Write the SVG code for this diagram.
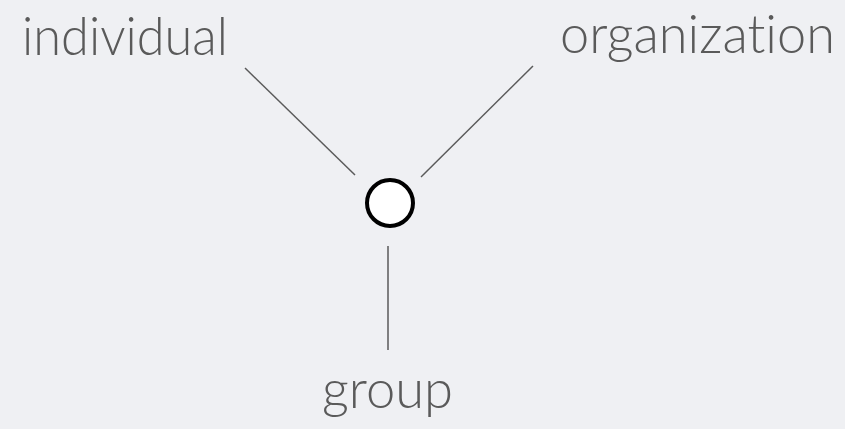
<svg xmlns="http://www.w3.org/2000/svg" width="845" height="429" viewBox="0 0 845 429">
<style>
.lbl{font-family:"Lato","Liberation Sans",sans-serif;font-size:54px;fill:#5a5a5a;font-weight:300;font-variant-ligatures:none;font-feature-settings:"liga" 0,"clig" 0}
.conn line{stroke:#5a5a5a;stroke-width:1.5}
</style>
<rect width="845" height="429" fill="#eff0f3"/>
<g id="connectors" class="conn">
<line x1="245" y1="68" x2="355" y2="175"/>
<line x1="533" y1="66" x2="421" y2="177"/>
<line x1="388" y1="246" x2="388" y2="350"/>
</g>
<g id="hub"><circle cx="390" cy="203" r="23" fill="#ffffff" stroke="#000000" stroke-width="4"/></g>
<g id="individual"><text class="lbl" x="22" y="55" textLength="206" lengthAdjust="spacingAndGlyphs">individual</text></g>
<g id="organization"><text class="lbl" x="560" y="53" textLength="275" lengthAdjust="spacingAndGlyphs">organization</text></g>
<g id="group"><text class="lbl" x="322" y="408" textLength="131" lengthAdjust="spacingAndGlyphs">group</text></g>
</svg>
